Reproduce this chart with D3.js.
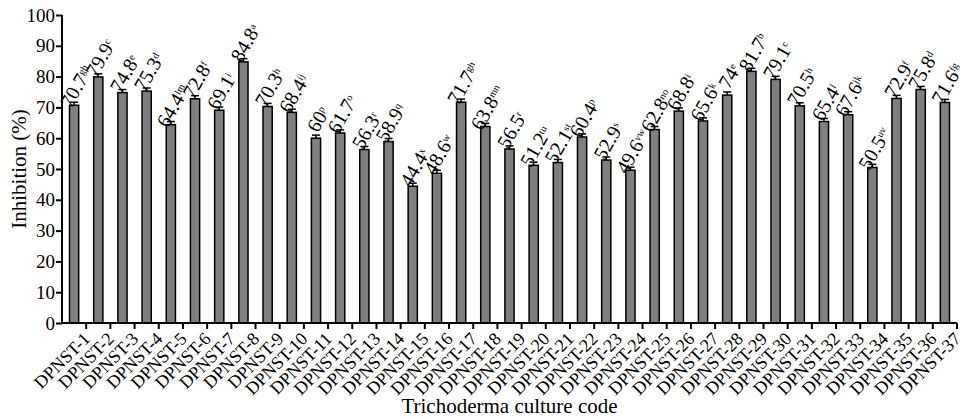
<!DOCTYPE html>
<html>
<head>
<meta charset="utf-8">
<script src="https://cdn.jsdelivr.net/npm/d3@7"></script>
<style>
  body { margin: 0; background: #fff; }
  svg text { font-family: "Liberation Serif", "Times New Roman", serif; fill: #000; }
</style>
</head>
<body>
<div id="chart"></div>
<script>
// culture codes
const codes = d3.range(1, 38).map(i => "DPNST-" + i);

// inhibition means (%)
const inhibition = [70.7, 79.9, 74.8, 75.3, 64.4, 72.8, 69.1, 84.8, 70.3, 68.4,
    60, 61.7, 56.3, 58.9, 44.4, 48.6, 71.7, 63.8, 56.5, 51.2,
    52.1, 60.4, 52.9, 49.6, 62.8, 68.8, 65.6, 74, 81.7, 79.1,
    70.5, 65.4, 67.6, 50.5, 72.9, 75.8, 71.6];

// standard error
const errors = [1, 1, 1, 1, 1, 1, 1, 1, 1, 1,
    1, 1, 1, 1, 1, 1, 1, 1, 1, 1,
    1, 1, 1, 1, 1, 1, 1, 1, 1, 1,
    1, 1, 1, 1, 1, 1, 1];

// significance letters
const letters = ["gh", "c", "e", "d", "lm", "f", "i", "a", "h", "ij",
    "p", "o", "r", "q", "x", "w", "gh", "mn", "r", "tu",
    "st", "p", "s", "vw", "no", "i", "k", "e", "b", "c",
    "h", "l", "jk", "uv", "f", "d", "fg"];

const yTicks = [0, 10, 20, 30, 40, 50, 60, 70, 80, 90, 100];

const data = codes.map((c, i) => ({
    code: c, value: inhibition[i], err: errors[i], letter: letters[i]
}));

const width = 968, height = 419;
const margin = { left: 62, right: 11, top: 15, bottom: 96 };
const innerWidth = width - margin.left - margin.right;
const innerHeight = height - margin.top - margin.bottom;

const svg = d3.select("#chart").append("svg")
    .attr("width", width)
    .attr("height", height);

const g = svg.append("g")
    .attr("transform", `translate(${margin.left}, ${margin.top})`);

const x = d3.scaleBand()
    .domain(codes)
    .range([0, innerWidth])
    .paddingInner(0.62)
    .paddingOuter(0.31);

const y = d3.scaleLinear()
    .domain([0, 100])
    .range([innerHeight, 0]);

const bw = x.bandwidth();

// bars
g.append("g")
    .selectAll("rect")
    .data(data)
    .enter()
    .append("rect")
    .attr("x", d => x(d.code))
    .attr("y", d => y(d.value))
    .attr("width", bw)
    .attr("height", d => innerHeight - y(d.value))
    .attr("fill", "#7f7f7f")
    .attr("stroke", "#000")
    .attr("stroke-width", 1.5);

// error bars
const eb = g.append("g")
    .attr("stroke", "#000")
    .attr("stroke-width", 1.5);

eb.selectAll("line.v")
    .data(data)
    .enter()
    .append("line")
    .attr("class", "v")
    .attr("x1", d => x(d.code) + bw / 2)
    .attr("x2", d => x(d.code) + bw / 2)
    .attr("y1", d => y(d.value))
    .attr("y2", d => y(d.value + d.err));

eb.selectAll("line.c")
    .data(data)
    .enter()
    .append("line")
    .attr("class", "c")
    .attr("x1", d => x(d.code) + bw / 2 - 4)
    .attr("x2", d => x(d.code) + bw / 2 + 4)
    .attr("y1", d => y(d.value + d.err))
    .attr("y2", d => y(d.value + d.err));

// value labels with letters
const lab = g.append("g")
    .selectAll("text")
    .data(data)
    .enter()
    .append("text")
    .attr("transform", d => `translate(${x(d.code) + bw / 2 + 2}, ${y(d.value + d.err) - 16}) rotate(-60)`)
    .attr("text-anchor", "middle")
    .attr("dy", "0.35em")
    .style("font-size", "20px");

lab.append("tspan").text(d => d.value);
lab.append("tspan")
    .attr("dy", "-0.6em")
    .style("font-size", "10px")
    .text(d => d.letter);

// y axis
const yAxis = g.append("g")
    .call(d3.axisLeft(y).tickValues(yTicks).tickSize(6).tickPadding(1).tickFormat(d3.format("d")));
yAxis.select(".domain").attr("stroke-width", 2).attr("d", `M0,${innerHeight}V0`);
yAxis.selectAll(".tick line").attr("stroke-width", 2);
yAxis.selectAll("text").style("font-size", "19px");

// x axis with ticks at band edges
const xAxis = g.append("g")
    .attr("transform", `translate(0, ${innerHeight})`);

xAxis.append("line")
    .attr("x1", 0).attr("x2", innerWidth)
    .attr("stroke", "#000").attr("stroke-width", 2);

const step = x.step();
const edges = d3.range(codes.length + 1).map(i => x(codes[0]) - x.paddingInner() * step / 2 + i * step);

xAxis.selectAll("line.t")
    .data(edges.slice(1))
    .enter()
    .append("line")
    .attr("class", "t")
    .attr("x1", d => d).attr("x2", d => d)
    .attr("y1", 0).attr("y2", 6)
    .attr("stroke", "#000").attr("stroke-width", 2);

xAxis.selectAll("text")
    .data(codes)
    .enter()
    .append("text")
    .attr("transform", d => `translate(${x(d) + bw / 2 + 8}, 8) rotate(-45)`)
    .attr("text-anchor", "end")
    .attr("dy", "0.7em")
    .style("font-size", "18px")
    .text(d => d);

// axis titles
svg.append("text")
    .attr("x", margin.left + innerWidth / 2)
    .attr("y", 413)
    .attr("text-anchor", "middle")
    .style("font-size", "21px")
    .text("Trichoderma culture code");

svg.append("text")
    .attr("transform", "rotate(-90)")
    .attr("x", -(margin.top + innerHeight / 2))
    .attr("y", 26)
    .attr("text-anchor", "middle")
    .style("font-size", "21px")
    .text("Inhibition (%)");
</script>
</body>
</html>
